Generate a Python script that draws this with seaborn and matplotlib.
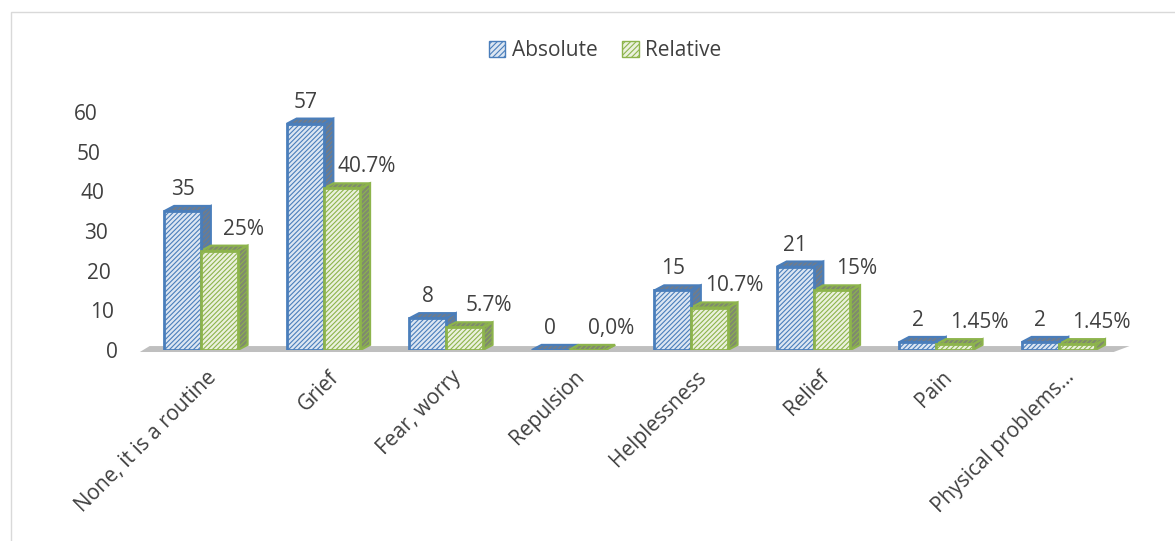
import matplotlib
matplotlib.use("Agg")
import matplotlib.pyplot as plt
import seaborn as sns
import pandas as pd
from matplotlib.patches import Polygon, Rectangle, Patch
from matplotlib.transforms import ScaledTranslation

categories = ["None, it is a routine", "Grief", "Fear, worry", "Repulsion",
              "Helplessness", "Relief", "Pain", "Physical problems…"]
absolute = [35, 57, 8, 0, 15, 21, 2, 2]
relative = [25, 40.7, 5.7, 0, 10.7, 15, 1.45, 1.45]
absolute_labels = ["35", "57", "8", "0", "15", "21", "2", "2"]
relative_labels = ["25%", "40.7%", "5.7%", "0,0%", "10.7%", "15%", "1.45%", "1.45%"]
series = ["Absolute", "Relative"]
yticks = [0, 10, 20, 30, 40, 50, 60]

df = pd.DataFrame({
    "category": categories * 2,
    "series": [series[0]] * len(categories) + [series[1]] * len(categories),
    "value": absolute + relative,
})

sns.set_theme(style="white")
plt.rcParams["font.family"] = ["Open Sans", "DejaVu Sans"]
plt.rcParams["hatch.linewidth"] = 0.8
text_color = "#404040"
fs = 15

fig = plt.figure(figsize=(11.75, 5.41), dpi=100)
ax = fig.add_axes([0.119, 0.353, 0.834, 0.477])

edge_cols = {"Absolute": "#4A7EBB", "Relative": "#8DB44C"}
face_cols = {"Absolute": "#DCE6F2", "Relative": "#EBF1DE"}
side_cols = {"Absolute": "#6F7C8C", "Relative": "#7F8A6E"}

sns.barplot(data=df, x="category", y="value", hue="series", order=categories,
            hue_order=series, width=0.6, ax=ax, legend=False, linewidth=2)

ax.set_xlim(-0.5, len(categories) - 0.5)
ax.set_ylim(0, 65)

# floor
xl = ax.get_xlim()
floor = Polygon([(xl[0], -0.5), (xl[1] - 0.05, -0.5), (xl[1] + 0.08, 1.0), (xl[0] + 0.08, 1.0)],
                closed=True, facecolor="#BFBFBF", edgecolor="none", zorder=0.5,
                clip_on=False)
ax.add_patch(floor)

n = len(categories)
depth_x = 0.08
depth_y = 1.3
for i, p in enumerate(ax.patches[:2 * n]):
    s = series[i // n]
    p.set_facecolor(face_cols[s])
    p.set_edgecolor(edge_cols[s])
    p.set_hatch("///////")
    p.set_zorder(3)
    x0 = p.get_x()
    w = p.get_width()
    h = p.get_height()
    side = Polygon([(x0 + w, 0), (x0 + w + depth_x, depth_y),
                    (x0 + w + depth_x, h + depth_y), (x0 + w, h)],
                   closed=True, facecolor=side_cols[s], edgecolor=edge_cols[s],
                   hatch="///////", lw=1.5, zorder=2)
    ax.add_patch(side)
    top = Polygon([(x0, h), (x0 + depth_x, h + depth_y),
                   (x0 + w + depth_x, h + depth_y), (x0 + w, h)],
                  closed=True, facecolor=side_cols[s], edgecolor=edge_cols[s],
                  hatch="///////", lw=1.5, zorder=2.5)
    ax.add_patch(top)

for i in range(n):
    pa = ax.patches[i]
    pr = ax.patches[n + i]
    ax.text(pa.get_x() + pa.get_width() / 2, pa.get_height() + 2.8,
            absolute_labels[i], ha="center", va="bottom", fontsize=fs, color=text_color)
    ax.text(pr.get_x() + pr.get_width() / 2 + 0.2, pr.get_height() + 2.8,
            relative_labels[i], ha="center", va="bottom", fontsize=fs, color=text_color)

ax.set_yticks(yticks)
ax.set_yticklabels([str(t) for t in yticks], fontsize=fs, color=text_color)
ax.tick_params(axis="y", length=0, pad=16)
ax.tick_params(axis="x", length=0, pad=12)
for t, lab in zip(yticks, ax.get_yticklabels()):
    dx = -t / 60 * 20 / 100.0
    lab.set_transform(lab.get_transform() + ScaledTranslation(dx, 0, fig.dpi_scale_trans))
ax.set_xticks(range(n))
ax.set_xticklabels(categories, rotation=45, ha="right", rotation_mode="anchor",
                   fontsize=fs, color=text_color)
for lab in ax.get_xticklabels():
    lab.set_transform(lab.get_transform() + ScaledTranslation(0.05, 0, fig.dpi_scale_trans))
ax.set_xlabel("")
ax.set_ylabel("")
for sp in ax.spines.values():
    sp.set_visible(False)

handles = [Patch(facecolor=face_cols[s], edgecolor=edge_cols[s], hatch="//////", label=s)
           for s in series]
fig.legend(handles=handles, loc="center", bbox_to_anchor=(0.515, 0.907), ncol=2,
           frameon=False, fontsize=fs, handlelength=0.8, handleheight=0.8,
           handletextpad=0.3, columnspacing=1.2, labelcolor=text_color)

fig.patches.append(Rectangle((0.009, -0.01), 0.995, 0.988, transform=fig.transFigure,
                             fill=False, edgecolor="#D9D9D9", lw=1))

fig.savefig("out.png", dpi=100)
